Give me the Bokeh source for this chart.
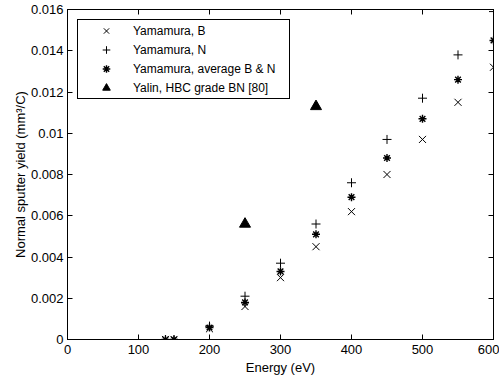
from bokeh.plotting import figure
from bokeh.models import Range1d, LinearAxis, FixedTicker
from bokeh.embed import file_html
from bokeh.resources import INLINE

# Data
energy = [138, 150, 200, 250, 300, 350, 400, 450, 500, 550, 600]
yamamura_b = [0.0, 0.0, 0.00052, 0.0016, 0.0030, 0.0045, 0.0062, 0.0080, 0.0097, 0.0115, 0.0132]
yamamura_n = [0.0, 0.0, 0.00065, 0.0021, 0.0037, 0.0056, 0.0076, 0.0097, 0.0117, 0.0138, 0.0159]
yamamura_avg = [0.0, 0.0, 0.00058, 0.0018, 0.0033, 0.0051, 0.0069, 0.0088, 0.0107, 0.0126, 0.0145]
yalin_energy = [250, 350]
yalin_yield = [0.0056, 0.0113]

xticks = [0, 100, 200, 300, 400, 500, 600]
yticks = [0, 0.002, 0.004, 0.006, 0.008, 0.01, 0.012, 0.014, 0.016]
ytick_labels = ["0", "0.002", "0.004", "0.006", "0.008", "0.01", "0.012", "0.014", "0.016"]

FONT = "Liberation Sans"

p = figure(width=499, height=380, output_backend="svg", toolbar_location=None,
           x_range=Range1d(0, 600), y_range=Range1d(0, 0.016),
           min_border_left=67, min_border_right=6, min_border_top=9, min_border_bottom=41)

p.grid.visible = False
p.outline_line_color = "black"
p.outline_line_alpha = 1
p.background_fill_color = "white"
p.border_fill_color = "white"

for ax in (p.xaxis[0], p.yaxis[0]):
    ax.axis_line_color = "black"
    ax.major_tick_line_color = "black"
    ax.major_tick_in = 5
    ax.major_tick_out = 0
    ax.minor_tick_line_color = None
    ax.major_label_text_font = FONT
    ax.major_label_text_font_size = "13px"
    ax.major_label_text_color = "black"
    ax.axis_label_text_font = FONT
    ax.axis_label_text_font_size = "13px"
    ax.axis_label_text_font_style = "normal"
    ax.axis_label_text_color = "black"

p.xaxis.ticker = FixedTicker(ticks=xticks)
p.yaxis.ticker = FixedTicker(ticks=yticks)
p.yaxis.major_label_overrides = {t: l for t, l in zip(yticks, ytick_labels)}
p.xaxis.axis_label = "Energy (eV)"
p.yaxis.axis_label = "Normal sputter yield (mm³/C)"
p.xaxis.major_label_standoff = 5
p.xaxis.axis_label_standoff = 3
p.yaxis.major_label_standoff = 4
p.yaxis.axis_label_standoff = 0

# mirrored ticks on top and right
for loc, ticks in (("above", xticks), ("right", yticks)):
    ax = LinearAxis(ticker=FixedTicker(ticks=ticks),
                    major_label_overrides={t: "" for t in ticks},
                    major_label_text_color=None,
                    major_label_text_font_size="1px",
                    major_label_standoff=0,
                    axis_line_color="black",
                    major_tick_line_color="black",
                    major_tick_in=5, major_tick_out=0,
                    minor_tick_line_color=None)
    p.add_layout(ax, loc)

p.scatter(energy, yamamura_b, marker="x", size=10, line_color="black", line_width=1,
          legend_label="Yamamura, B")
p.scatter(energy, yamamura_n, marker="cross", size=9, line_color="black", line_width=1,
          legend_label="Yamamura, N")
p.scatter(energy, yamamura_avg, marker="asterisk", size=8, line_color="black", line_width=1.4,
          legend_label="Yamamura, average B & N")
p.scatter(yalin_energy, yalin_yield, marker="triangle", size=11, line_color="black",
          fill_color="black", legend_label="Yalin, HBC grade BN [80]")

lg = p.legend[0]
lg.location = "top_left"
lg.margin = 10
lg.padding = 1
lg.spacing = 0
lg.glyph_width = 54
lg.glyph_height = 19
lg.label_height = 19
lg.label_standoff = 0
lg.label_width = 155
lg.border_line_color = "black"
lg.border_line_width = 1
lg.border_line_alpha = 1
lg.background_fill_alpha = 1
lg.label_text_font = FONT
lg.label_text_font_size = "12px"
lg.label_text_color = "black"

open("out.html", "w").write(file_html(p, INLINE))
